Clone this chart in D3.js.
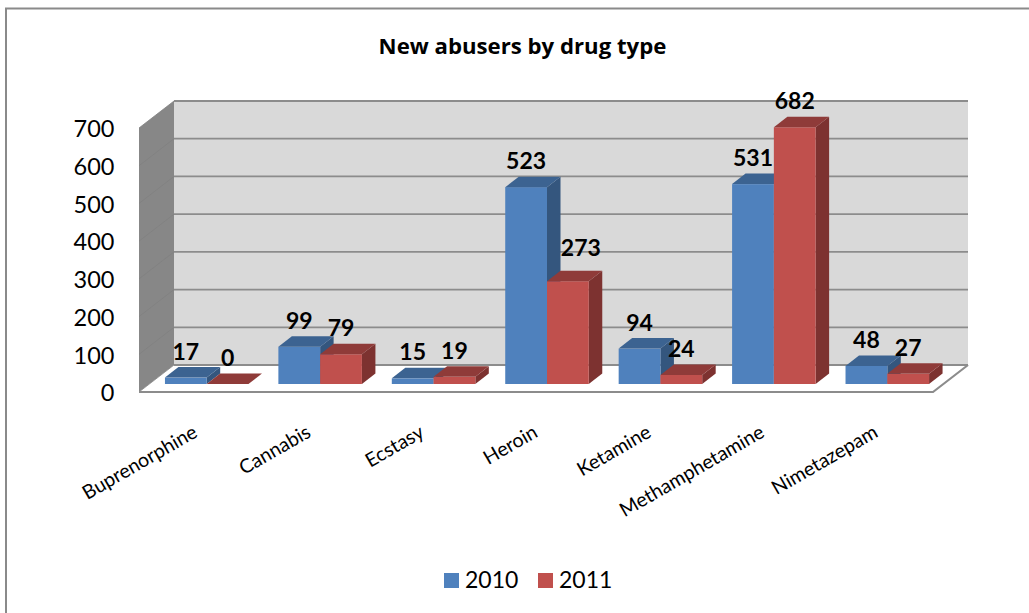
<!DOCTYPE html>
<html><head><meta charset="utf-8">
<script src="https://cdn.jsdelivr.net/npm/d3@7/dist/d3.min.js"></script>
<style>html,body{margin:0;padding:0;background:#fff}svg{display:block}text{font-family:Lato,"Open Sans",sans-serif}</style>
</head><body><svg width="1029" height="613"></svg>
<script>
const categories=["Buprenorphine","Cannabis","Ecstasy","Heroin","Ketamine","Methamphetamine","Nimetazepam"];
const seriesNames=["2010","2011"];
const values2010=[17,99,15,523,94,531,48];
const values2011=[0,79,19,273,24,682,27];
const yTicks=[0,100,200,300,400,500,600,700];
const colors={"2010":["#4f81bd","#3c6391","#34567e"],"2011":["#c0504d","#8f3b39","#7d3230"]};
const series=[values2010,values2011];

const svg=d3.select("svg");
svg.append("rect").attr("x",6).attr("y",8.5).attr("width",1040).attr("height",640).attr("fill","#fff").attr("stroke","#8a8a8a").attr("stroke-width",2);

const depth={dx:35,dy:27}, barD={dx:13.5,dy:10.5};
const yFront=d3.scaleLinear().domain([0,700]).range([392,128]);
const yBack=d3.scaleLinear().domain([0,700]).range([365,101]);
const yBar=d3.scaleLinear().domain([0,700]).range([384,120.5]);
const xFloor=d3.scaleLinear().domain([0,7]).range([139,933]);
const x0=d3.scaleBand().domain(categories).range([150,944]).paddingInner(0.2636).paddingOuter(0.1318);
const x1=d3.scaleBand().domain(seriesNames).range([0,x0.bandwidth()]);
const poly=p=>p.map(a=>a.join(",")).join(" ");

// walls and floor
const L=xFloor(0),R=xFloor(7);
svg.append("polygon").attr("points",poly([[L+depth.dx,yBack(700)],[R+depth.dx,yBack(700)],[R+depth.dx,yBack(0)],[L+depth.dx,yBack(0)]])).attr("fill","#d9d9d9");
svg.append("polygon").attr("points",poly([[L,yFront(700)],[L+depth.dx,yBack(700)],[L+depth.dx,yBack(0)],[L,yFront(0)]])).attr("fill","#878787");
svg.append("polygon").attr("points",poly([[L,yFront(0)],[R,yFront(0)],[R+depth.dx,yBack(0)],[L+depth.dx,yBack(0)]])).attr("fill","#fff");
svg.append("g").selectAll("line").data(yTicks).join("line")
  .attr("x1",L+depth.dx).attr("x2",R+depth.dx).attr("y1",d=>yBack(d)).attr("y2",d=>yBack(d))
  .attr("stroke","#8c8c8c").attr("stroke-width",1.8);
svg.append("g").selectAll("line").data(yTicks).join("line")
  .attr("x1",L).attr("x2",L+depth.dx).attr("y1",d=>yFront(d)).attr("y2",d=>yBack(d))
  .attr("stroke","#808080").attr("stroke-width",0.8);
svg.append("polyline").attr("points",poly([[L,yFront(0)],[R,yFront(0)],[R+depth.dx,yBack(0)]])).attr("fill","none").attr("stroke","#8c8c8c").attr("stroke-width",2.2);

// bars
categories.forEach((c,i)=>{
  series.forEach((vals,s)=>{
    const name=seriesNames[s], v=vals[i], col=colors[name];
    const x=x0(c)+x1(name), w=x1.bandwidth(), b=yBar(0), t=yBar(v);
    const g=svg.append("g");
    g.append("polygon").attr("points",poly([[x+w,b],[x+w+barD.dx,b-barD.dy],[x+w+barD.dx,t-barD.dy],[x+w,t]])).attr("fill",col[2]);
    g.append("rect").attr("x",x).attr("y",t).attr("width",w).attr("height",b-t).attr("fill",col[0]);
    g.append("polygon").attr("points",poly([[x,t],[x+barD.dx,t-barD.dy],[x+w+barD.dx,t-barD.dy],[x+w,t]])).attr("fill",col[1]);
  });
});
// labels on top (the 273 label sits off-centre in the original, clear of the neighbouring bar)
const nudge=(s,i)=>(s===1&&i===3)?[13,-7]:[0,0];
categories.forEach((c,i)=>{
  series.forEach((vals,s)=>{
    const name=seriesNames[s], n=nudge(s,i);
    svg.append("text").attr("x",x0(c)+x1(name)+x1.bandwidth()/2+n[0]).attr("y",yBar(vals[i])-26+n[1]).attr("dy","0.35em")
      .attr("text-anchor","middle").attr("font-size",23).attr("font-weight",700).attr("fill","#000").text(vals[i]);
  });
});
// y axis labels
svg.append("g").selectAll("text").data(yTicks).join("text")
  .attr("x",114.5).attr("y",d=>yFront(d)+1).attr("dy","0.35em").attr("text-anchor","end").attr("font-size",23.5).attr("fill","#000").text(d=>d);
// category labels
svg.append("g").selectAll("text").data(categories).join("text")
  .attr("transform",(d,i)=>`translate(${x0(d)+x0.bandwidth()/2-11.5},${430}) rotate(-30)`)
  .attr("text-anchor","end").attr("dy","0.35em").attr("font-size",19.6).attr("fill","#000").text(d=>d);
// title
svg.append("text").attr("x",522.5).attr("y",46).attr("dy","0.35em").attr("text-anchor","middle")
  .style("font-family","'Open Sans'").attr("font-size",22.2).attr("font-weight",700).text("New abusers by drug type");
// legend
const legendX=[444,538];
seriesNames.forEach((n,i)=>{
  svg.append("rect").attr("x",legendX[i]).attr("y",573).attr("width",15).attr("height",15).attr("fill",colors[n][0]);
  svg.append("text").attr("x",legendX[i]+21).attr("y",580).attr("dy","0.35em").attr("font-size",23).text(n);
});
</script></body></html>
